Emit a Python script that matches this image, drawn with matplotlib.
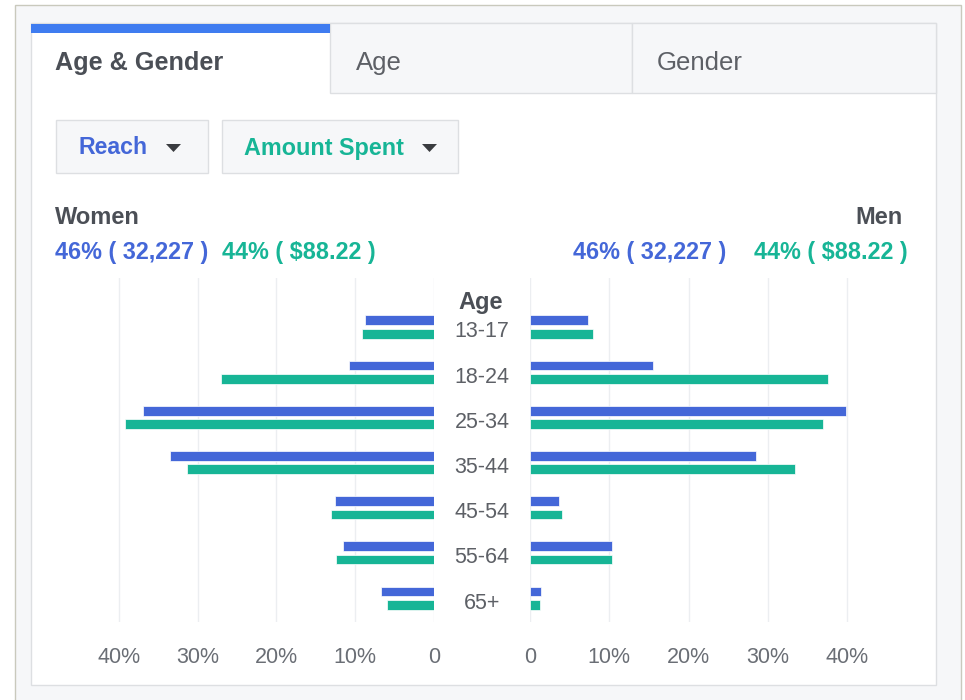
import numpy as np
import matplotlib.pyplot as plt
from matplotlib.patches import Rectangle, Polygon
from matplotlib.transforms import blended_transform_factory

plt.rcParams['font.family'] = ['Liberation Sans', 'DejaVu Sans']

# share of each age group, in percent
ages = ['13-17', '18-24', '25-34', '35-44', '45-54', '55-64', '65+']
women_reach = [8.8, 10.8, 37.0, 33.5, 12.6, 11.6, 6.7]
women_spent = [9.1, 27.0, 39.2, 31.3, 13.1, 12.4, 6.0]
men_reach = [7.3, 15.5, 39.9, 28.5, 3.7, 10.3, 1.4]
men_spent = [7.9, 37.6, 37.0, 33.4, 4.0, 10.3, 1.2]

ticks = [0, 10, 20, 30, 40]
tick_labels = ['0', '10%', '20%', '30%', '40%']
tabs = ['Age & Gender', 'Age', 'Gender']
reach_total = '46% ( 32,227 )'
spent_total = '44% ( $88.22 )'

BLUE = '#4467d8'
GREEN = '#17b596'
DARK = '#4b4f56'
GREY = '#6a6e75'
BORDER = '#dddfe2'
PANEL = '#f6f7f9'

W, H = 965, 700
fig = plt.figure(figsize=(W / 100, H / 100), dpi=100)

# background layer in pixel coordinates
bg = fig.add_axes([0, 0, 1, 1])
bg.set_xlim(0, W)
bg.set_ylim(H, 0)
bg.axis('off')

bg.add_patch(Rectangle((15, 5), 946, 720, fc=PANEL, ec='#c9c9bd', lw=1))
bg.add_patch(Rectangle((31, 23), 905, 662, fc='white', ec=BORDER, lw=1))

# tabs
bg.add_patch(Rectangle((330, 23), 302, 70, fc=PANEL, ec=BORDER, lw=1))
bg.add_patch(Rectangle((632, 23), 304, 70, fc=PANEL, ec=BORDER, lw=1))
bg.add_patch(Rectangle((31, 24), 299, 9, fc='#3f7cf0', ec='none'))
bg.text(55, 63, tabs[0], fontsize=18.2, fontweight='bold', color=DARK, va='center')
bg.text(356, 63, tabs[1], fontsize=18.5, color='#5d6066', va='center')
bg.text(657, 63, tabs[2], fontsize=18.5, color='#5d6066', va='center')

# metric dropdowns
bg.add_patch(Rectangle((56, 120), 152, 53, fc=PANEL, ec=BORDER, lw=1))
bg.add_patch(Rectangle((222, 120), 236, 53, fc=PANEL, ec=BORDER, lw=1))
bg.text(78, 148, 'Reach', fontsize=16.7, fontweight='bold', color=BLUE, va='center')
bg.text(244, 148, 'Amount Spent', fontsize=16.8, fontweight='bold', color=GREEN, va='center')
bg.add_patch(Polygon([(166, 144), (181, 144), (173.5, 152)], fc='#3a3c40', ec='none'))
bg.add_patch(Polygon([(422, 144), (437, 144), (429.5, 152)], fc='#3a3c40', ec='none'))

# gender headers and totals
bg.text(55, 218, 'Women', fontsize=17, fontweight='bold', color=DARK, va='center')
bg.text(903, 217, 'Men', fontsize=17, fontweight='bold', color=DARK, va='center', ha='right')
bg.text(55, 252, reach_total, fontsize=16.8, fontweight='bold', color=BLUE, va='center')
bg.text(222, 252, spent_total, fontsize=16.8, fontweight='bold', color=GREEN, va='center')
bg.text(726, 252, reach_total, fontsize=16.8, fontweight='bold', color=BLUE, va='center', ha='right')
bg.text(908, 252, spent_total, fontsize=16.8, fontweight='bold', color=GREEN, va='center', ha='right')


def px_axes(x0, x1, y0, y1):
    return fig.add_axes([x0 / W, 1 - y1 / H, (x1 - x0) / W, (y1 - y0) / H])


axl = px_axes(100, 434, 278, 622)
axr = px_axes(530, 872, 278, 622)
axl.set_xlim(42.4, 0)
axr.set_xlim(0, 43.15)

y = np.arange(len(ages))
bh = 0.215
off = 0.148
for ax, reach, spent in [(axl, women_reach, women_spent), (axr, men_reach, men_spent)]:
    ax.patch.set_alpha(0)
    ax.barh(y - off, reach, height=bh, color=BLUE, edgecolor='white', linewidth=0.5)
    ax.barh(y + off, spent, height=bh, color=GREEN, edgecolor='white', linewidth=0.5)
    ax.set_ylim(6.53, -1.084)
    ax.set_yticks([])
    ax.set_xticks(ticks, tick_labels)
    ax.xaxis.grid(True, color='#eceef1', linewidth=1)
    ax.set_axisbelow(True)
    ax.tick_params(axis='x', length=0, labelsize=15.5, labelcolor=GREY, pad=18)
    for s in ax.spines.values():
        s.set_visible(False)

# age labels in the middle column
tr = blended_transform_factory(bg.transData, axl.transData)
bg.text(481, -0.55, 'Age', transform=tr, fontsize=17, fontweight='bold',
        color=DARK, ha='center', va='center')
for i, a in enumerate(ages):
    bg.text(482, i + 0.11, a, transform=tr, fontsize=15.5, color='#5d6066',
            ha='center', va='center')

fig.savefig('out.png', dpi=100)
